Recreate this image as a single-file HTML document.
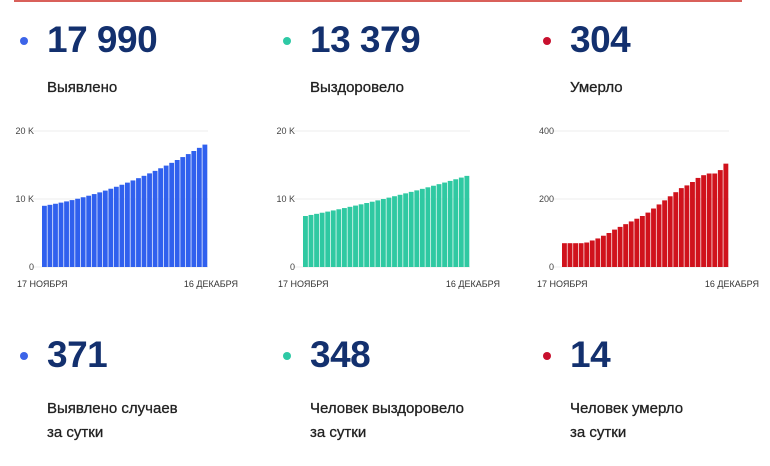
<!DOCTYPE html>
<html><head><meta charset="utf-8"><style>
body{margin:0;width:770px;height:466px;background:#fff;position:relative;overflow:hidden;font-family:"Liberation Sans",sans-serif}
.a{position:absolute;white-space:nowrap}
.num{font-size:37px;font-weight:bold;color:#13306e;letter-spacing:-0.5px}
.lab{font-size:15px;color:#222;line-height:24px;-webkit-text-stroke:0.3px #222}
.dot{width:8px;height:8px;border-radius:50%;position:absolute}
</style></head><body>
<div class="a" style="left:14px;top:0;width:728px;height:2px;background:#d9605a"></div>

<div class="dot" style="left:20px;top:37px;background:#3c64e8"></div>
<div class="a num" style="left:47px;top:19px">17 990</div>
<div class="a lab" style="left:47px;top:76px">Выявлено</div>
<div class="dot" style="left:283px;top:37px;background:#2ec9a5"></div>
<div class="a num" style="left:310px;top:19px">13 379</div>
<div class="a lab" style="left:310px;top:76px">Выздоровело</div>
<div class="dot" style="left:543px;top:37px;background:#c8102e"></div>
<div class="a num" style="left:570px;top:19px">304</div>
<div class="a lab" style="left:570px;top:76px">Умерло</div>

<div class="dot" style="left:20px;top:352px;background:#3c64e8"></div>
<div class="a num" style="left:47px;top:334px">371</div>
<div class="a lab" style="left:47px;top:397px">Выявлено случаев<br>за сутки</div>
<div class="dot" style="left:283px;top:352px;background:#2ec9a5"></div>
<div class="a num" style="left:310px;top:334px">348</div>
<div class="a lab" style="left:310px;top:397px">Человек выздоровело<br>за сутки</div>
<div class="dot" style="left:543px;top:352px;background:#c8102e"></div>
<div class="a num" style="left:570px;top:334px">14</div>
<div class="a lab" style="left:570px;top:397px">Человек умерло<br>за сутки</div>

<svg class="a" style="left:0;top:0" width="770" height="466" id="s"></svg>
<script>
var s=document.getElementById('s'),h='';
function ch(x0,x1,y0,ticks,max,col,vals){
 ticks.forEach(function(t){var y=y0-(t[0]/max)*136;
  h+='<line x1="'+(x0-10)+'" x2="'+x1+'" y1="'+y+'" y2="'+y+'" stroke="#eee" stroke-width="1"/>';
  h+='<text x="'+(x0-8)+'" y="'+(y+3)+'" font-size="9" fill="#444" text-anchor="end" font-family="Liberation Sans">'+t[1]+'</text>';});
 var n=vals.length,w=(x1-x0)/n;
 vals.forEach(function(v,i){var bh=v/max*136;
  h+='<rect x="'+(x0+i*w).toFixed(2)+'" y="'+(y0-bh).toFixed(2)+'" width="'+(w-0.7).toFixed(2)+'" height="'+bh.toFixed(2)+'" fill="'+col+'"/>';});
 h+='<text x="'+(x0-25)+'" y="'+(y0+20)+'" font-size="9" fill="#333" font-family="Liberation Sans">17 НОЯБРЯ</text>';
 h+='<text x="'+(x1+30)+'" y="'+(y0+20)+'" font-size="9" fill="#333" text-anchor="end" font-family="Liberation Sans">16 ДЕКАБРЯ</text>';
}
var a=[],b=[],c=[];
for(var i=0;i<30;i++){var t=i/29;a.push(9000+t*4000+t*t*5000);b.push(7500+t*4500+t*t*1400);}
c=[70,70,70,70,72,78,84,92,100,110,118,126,134,142,150,160,172,184,196,208,220,232,240,250,262,270,275,275,285,304];
ch(42,208,267,[[0,'0'],[10000,'10 K'],[20000,'20 K']],20000,'#3060ee',a);
ch(303,470,267,[[0,'0'],[10000,'10 K'],[20000,'20 K']],20000,'#2fc9a2',b);
ch(562,729,267,[[0,'0'],[200,'200'],[400,'400']],400,'#d0121c',c);
s.innerHTML=h;
</script>
</body></html>
